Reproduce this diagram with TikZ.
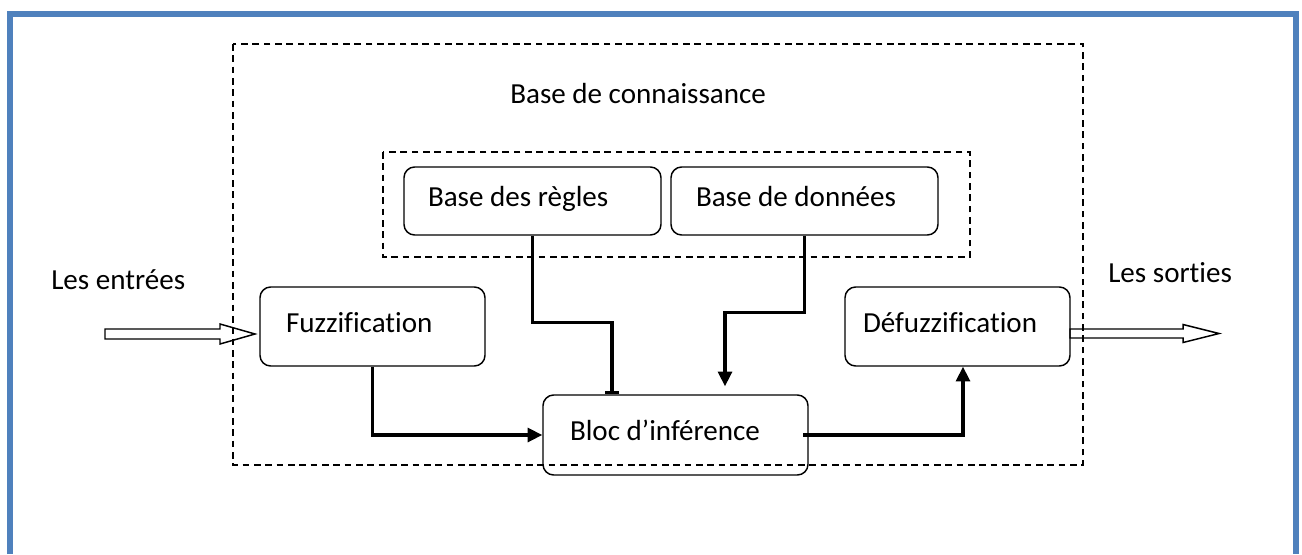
\documentclass[tikz,border=0pt]{standalone}
\usepackage{fontspec}
\setmainfont{Carlito}[Ligatures=NoCommon]
\usetikzlibrary{arrows.meta,calc}
\definecolor{frameblue}{RGB}{79,129,189}

\begin{document}
\begin{tikzpicture}[x=0.75pt,y=-0.75pt,
    every node/.style={font=\fontsize{21.8}{26}\selectfont},
    box/.style={draw, line width=1.1pt, rounded corners=8pt, align=flush left,
      text height=2.1ex, text depth=.25ex},
    label/.style={anchor=base west, inner sep=0pt},
    zone/.style={draw, line width=1pt, dash pattern=on 5pt off 3.5pt},
    flow/.style={line width=2.3pt},
    hollow/.style={draw, line width=1.1pt}]
  \useasboundingbox (0,0) rectangle (1302,554);
  \draw[line width=4.5pt, draw=frameblue] (10,554) -- (10,14) -- (1295.5,14) -- (1295.5,554);
  \draw[zone] (233,44) rectangle (1083,465);
  \draw[zone] (383,152) rectangle (970,257);
  \node[label] (know) at (510,103) {Base de connaissance};
  \node[label] (inlabel) at (51,289) {Les entrées};
  \node[label] (outlabel) at (1108,282) {Les sorties};
  \node[box, minimum width=192.75pt, minimum height=51pt, text width=156.75pt]
    (regles) at (532.5,201) {Base des règles};
  \node[box, minimum width=200.25pt, minimum height=51pt, text width=162.75pt]
    (donnees) at (804.5,201) {Base de données};
  \node[box, minimum width=168.75pt, minimum height=59.25pt, text width=129.75pt]
    (fuzz) at (372.5,326.5) {Fuzzification};
  \node[box, minimum width=198.75pt, minimum height=60pt, text width=158.25pt]
    (infer) at (675.5,435) {Bloc d’inférence};
  \node[box, minimum width=168.75pt, minimum height=59.25pt, text width=141.75pt]
    (defuzz) at (957.5,326.5) {Défuzzification};
  \begin{scope}[flow, -{Triangle[length=11pt,width=10.5pt]}]
    \draw[-{Bar[width=11pt]}] (regles.south) -- ++(0,87) -| ($(infer.north)+(-63.5,0)$);
    \draw (donnees.south) -- ++(0,77) -| ($(infer.north)+(49.5,-8)$);
    \draw (fuzz.south) |- (infer.west);
    \draw ([xshift=-4pt]infer.east) -| ($(defuzz.south)+(5.5,0)$);
  \end{scope}
  \coordinate (in) at (105,334);
  \coordinate (out) at (1070,333.5);
  \draw[hollow] (in) ++(0,-5) -- ++(115,0) -- ++(0,-5) -- ++(35,10)
    -- ++(-35,10) -- ++(0,-5) -- ++(-115,0) -- cycle;
  \draw[hollow] (out) ++(0,-4.5) -- ++(113,0) -- ++(0,-4.5) -- ++(36,9)
    -- ++(-36,9) -- ++(0,-4.5) -- ++(-113,0) -- cycle;
\end{tikzpicture}
\end{document}
